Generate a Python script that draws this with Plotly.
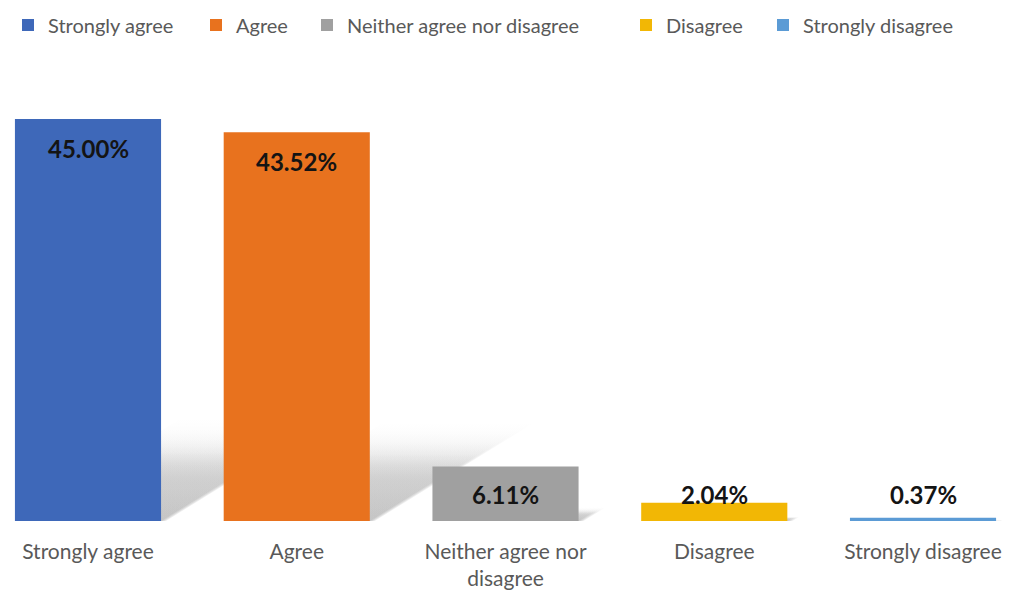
import plotly.graph_objects as go

categories = ["Strongly agree", "Agree", "Neither agree nor disagree", "Disagree", "Strongly disagree"]
tick_labels = ["Strongly agree", "Agree", "Neither agree nor<br>disagree", "Disagree", "Strongly disagree"]
values = [45.00, 43.52, 6.11, 2.04, 0.37]
colors = ["#3E68B9", "#E8721E", "#A0A0A0", "#F2B705", "#5B9BD5"]
legend_widths = [143, 66, 274, 92, 150]

FONT = "Lato"
BAR_W = 0.70
xs = list(range(len(categories)))

fig = go.Figure()

# soft perspective shadow behind each bar (derived from bar value), on the base axes;
# a few stacked translucent layers give a blurred edge
for x, v in zip(xs, values):
    for s in (0.82, 0.94, 1.06, 1.18):
        h = v * 0.215 * s
        dx = v * 0.0149 * s
        l, r = x - BAR_W / 2, x + BAR_W / 2 + 0.06 * (s - 0.8)
        fig.add_trace(go.Scatter(
            x=[l, r, r + dx, l + dx, l], y=[0, 0, h, h, 0],
            xaxis="x", yaxis="y",
            mode="lines", line=dict(width=0), fill="toself",
            fillgradient=dict(type="vertical", start=0, stop=h,
                              colorscale=[[0, "rgba(140,140,140,0.16)"],
                                          [0.6, "rgba(150,150,150,0.13)"],
                                          [1, "rgba(200,200,200,0)"]]),
            showlegend=False, hoverinfo="skip"))

# bars on overlaying axes so they are drawn above the shadows
for x, cat, v, c, lw in zip(xs, categories, values, colors, legend_widths):
    fig.add_trace(go.Bar(x=[x], y=[v], name=cat, marker=dict(color=c, line=dict(width=0)),
                         width=BAR_W, hoverinfo="skip", xaxis="x2", yaxis="y2",
                         legendwidth=lw))

for x, v in zip(xs, values):
    fig.add_annotation(x=x, y=max(v - 3.25, 3.0), xref="x2", yref="y2",
                       text=f"{v:.2f}%", showarrow=False,
                       font=dict(family=FONT, size=24, color="#141414", weight="bold"),
                       xanchor="center", yanchor="middle")

XR = [-0.3832, 4.455]
YR = [0, 49.6]
fig.update_layout(
    width=1010, height=592,
    barmode="overlay",
    paper_bgcolor="white", plot_bgcolor="white",
    margin=dict(l=0, r=0, t=70, b=79, autoexpand=False),
    font=dict(family=FONT, size=21, color="#595959"),
    legend=dict(orientation="h", x=0, xref="container", y=1 - 17 / 592, yref="container",
                xanchor="left", yanchor="middle",
                font=dict(size=20, color="#595959"),
                traceorder="normal", itemwidth=30),
    showlegend=True,
    xaxis=dict(range=XR, tickmode="array", tickvals=xs, ticktext=tick_labels,
               showgrid=False, showline=False, zeroline=False, ticks="", ticklabelstandoff=16),
    yaxis=dict(range=YR, visible=False, showgrid=False, zeroline=False),
    xaxis2=dict(range=XR, overlaying="x", visible=False, showgrid=False, zeroline=False),
    yaxis2=dict(range=YR, overlaying="y", visible=False, showgrid=False, zeroline=False),
)

fig.write_html("out.html")
